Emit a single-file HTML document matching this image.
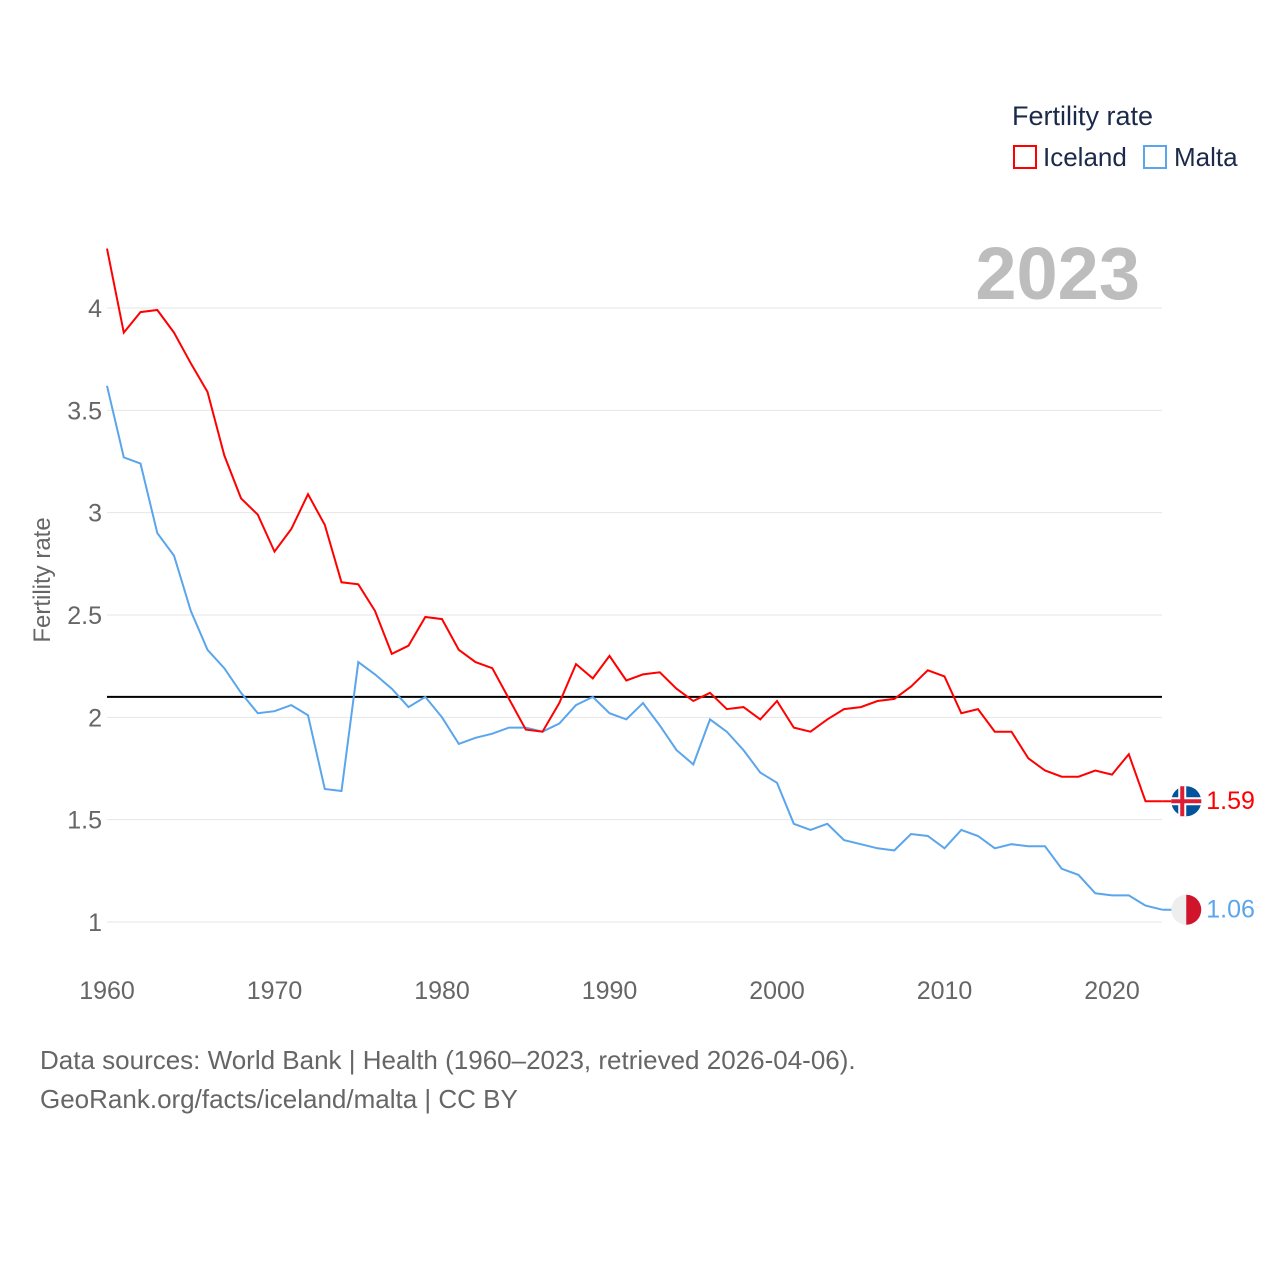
<!DOCTYPE html>
<html><head><meta charset="utf-8"><style>
body{margin:0;background:#fff;font-family:"Liberation Sans",sans-serif}
svg text{font-family:"Liberation Sans",sans-serif}
</style></head><body>
<svg id="chart" width="1280" height="1280" viewBox="0 0 1280 1280">
<g id="grid"></g>
<g id="yticks"></g>
<g id="xticks"></g>
<text x="50" y="580" transform="rotate(-90 50 580)" text-anchor="middle" font-size="24" fill="#666">Fertility rate</text>
<text x="1140" y="299" text-anchor="end" font-size="74" font-weight="bold" fill="#bdbdbd">2023</text>
<line id="refline" x1="107" x2="1162" stroke="#000" stroke-width="2"/>
<path id="mal" fill="none" stroke="#5aa5ec" stroke-width="2"/>
<path id="ice" fill="none" stroke="#f00" stroke-width="2"/>
<g>
<text x="1012" y="125" font-size="27" fill="#1b2a4a">Fertility rate</text>
<g><rect x="1014" y="146" width="22" height="22" fill="none" stroke="#f00" stroke-width="2"/><text x="1043" y="166" font-size="26" fill="#1b2a4a">Iceland</text></g>
<g><rect x="1144" y="146" width="22" height="22" fill="none" stroke="#5aa5ec" stroke-width="2"/><text x="1174" y="166" font-size="26" fill="#1b2a4a">Malta</text></g>
</g>
<g id="ends"></g>
<text x="40" y="1069" font-size="26" fill="#666">Data sources: World Bank | Health (1960–2023, retrieved 2026-04-06).</text>
<text x="40" y="1108" font-size="26" fill="#666">GeoRank.org/facts/iceland/malta | CC BY</text>
</svg>
<script>
const years=[];for(let y=1960;y<=2023;y++)years.push(y);
const iceland=[4.29,3.88,3.98,3.99,3.88,3.73,3.59,3.28,3.07,2.99,2.81,2.92,3.09,2.94,2.66,2.65,2.52,2.31,2.35,2.49,2.48,2.33,2.27,2.24,2.09,1.94,1.93,2.07,2.26,2.19,2.30,2.18,2.21,2.22,2.14,2.08,2.12,2.04,2.05,1.99,2.08,1.95,1.93,1.99,2.04,2.05,2.08,2.09,2.15,2.23,2.20,2.02,2.04,1.93,1.93,1.80,1.74,1.71,1.71,1.74,1.72,1.82,1.59,1.59];
const malta=[3.62,3.27,3.24,2.90,2.79,2.52,2.33,2.24,2.12,2.02,2.03,2.06,2.01,1.65,1.64,2.27,2.21,2.14,2.05,2.10,2.00,1.87,1.90,1.92,1.95,1.95,1.93,1.97,2.06,2.10,2.02,1.99,2.07,1.96,1.84,1.77,1.99,1.93,1.84,1.73,1.68,1.48,1.45,1.48,1.40,1.38,1.36,1.35,1.43,1.42,1.36,1.45,1.42,1.36,1.38,1.37,1.37,1.26,1.23,1.14,1.13,1.13,1.08,1.06];
const yTicks=[1,1.5,2,2.5,3,3.5,4];
const xTicks=[1960,1970,1980,1990,2000,2010,2020];
const refValue=2.1;
const X=y=>107+(y-1960)*(1005/60);
const Y=v=>922-(v-1)*(614/3);
const NS='http://www.w3.org/2000/svg';
function mk(t,a,p,txt){const e=document.createElementNS(NS,t);for(const k in a)e.setAttribute(k,a[k]);if(txt!=null)e.textContent=txt;p.appendChild(e);return e;}
const grid=document.getElementById('grid'),yt=document.getElementById('yticks'),xt=document.getElementById('xticks');
yTicks.forEach(v=>{
 const l=mk('line',{x1:107,x2:1162,y1:Y(v),y2:Y(v),stroke:'#e6e6e6','stroke-width':1},grid);
 
 
 const t=mk('text',{x:102,y:Y(v)+9,'text-anchor':'end','font-size':25,fill:'#666'},yt,String(v));
 
 
});
xTicks.forEach(v=>{
 const t=mk('text',{x:X(v),y:999,'text-anchor':'middle','font-size':25,fill:'#666'},xt,String(v));
 
 
});
const rl=document.getElementById('refline');rl.setAttribute('y1',Y(refValue));rl.setAttribute('y2',Y(refValue));
const path=a=>a.map((v,i)=>(i?'L':'M')+X(years[i]).toFixed(1)+' '+Y(v).toFixed(1)).join(' ');
document.getElementById('ice').setAttribute('d',path(iceland));
document.getElementById('mal').setAttribute('d',path(malta));
const ends=document.getElementById('ends');
const lastX=X(years[years.length-1]);
const iv=iceland[iceland.length-1],mv=malta[malta.length-1];
let g=mk('g',{},ends);


const cx=lastX+24;
mk('line',{x1:lastX,x2:cx,y1:Y(iv),y2:Y(iv),stroke:'#f00','stroke-width':2},g);
mk('circle',{cx:cx,cy:Y(iv),r:15,fill:'#02529c'},g);
mk('rect',{x:cx-15,y:Y(iv)-4,width:30,height:8,fill:'#fff'},g);
mk('rect',{x:cx-8,y:Y(iv)-15,width:8,height:30,fill:'#fff'},g);
mk('rect',{x:cx-15,y:Y(iv)-2,width:30,height:4,fill:'#dc1e35'},g);
mk('rect',{x:cx-6,y:Y(iv)-15,width:4,height:30,fill:'#dc1e35'},g);
mk('text',{x:cx+20,y:Y(iv)+8,'font-size':25,fill:'#f00'},g,iv.toFixed(2));
g=mk('g',{},ends);


mk('line',{x1:lastX,x2:cx,y1:Y(mv),y2:Y(mv),stroke:'#5aa5ec','stroke-width':2},g);
mk('path',{d:`M${cx} ${Y(mv)-15} A15 15 0 0 0 ${cx} ${Y(mv)+15} Z`,fill:'#eee'},g);
mk('path',{d:`M${cx} ${Y(mv)-15} A15 15 0 0 1 ${cx} ${Y(mv)+15} Z`,fill:'#cf142b'},g);
mk('text',{x:cx+20,y:Y(mv)+8,'font-size':25,fill:'#5aa5ec'},g,mv.toFixed(2));
</script>
</body></html>
